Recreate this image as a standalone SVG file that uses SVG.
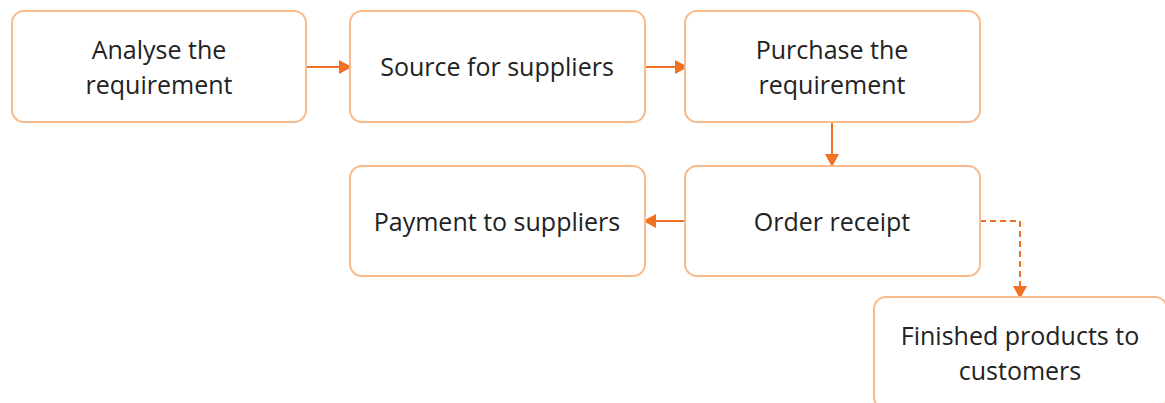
<svg xmlns="http://www.w3.org/2000/svg" width="1165" height="403" viewBox="0 0 1165 403">
<style>
.box{fill:#fff;stroke:#F9BA8C;stroke-width:2}
.t{font-family:"Open Sans","Liberation Sans",sans-serif;font-size:25px;fill:#222;text-anchor:middle}
.c{fill:none;stroke:#F07024;stroke-width:2}
.d{stroke-dasharray:6,4}
</style>
<defs>
<marker id="ah" markerWidth="13" markerHeight="14" refX="11" refY="7" orient="auto" markerUnits="userSpaceOnUse">
<path d="M0,0 L13,7 L0,14 z" fill="#F07024"/>
</marker>
</defs>
<rect width="1165" height="403" fill="#fff"/>
<g id="connectors">
<path class="c" d="M306,67 L350,67" marker-end="url(#ah)"/>
<path class="c" d="M645,67 L686,67" marker-end="url(#ah)"/>
<path class="c" d="M832,122 L832,165" marker-end="url(#ah)"/>
<path class="c" d="M685,221 L645,221" marker-end="url(#ah)"/>
<path class="c d" d="M980,221 L1020,221 L1020,297" marker-end="url(#ah)"/>
</g>
<g id="n1"><rect class="box" x="12" y="11" width="294" height="111" rx="12"/>
<text class="t" x="159" y="59">Analyse the</text><text class="t" x="159" y="94">requirement</text></g>
<g id="n2"><rect class="box" x="350" y="11" width="295" height="111" rx="12"/>
<text class="t" x="497" y="76">Source for suppliers</text></g>
<g id="n3"><rect class="box" x="685" y="11" width="295" height="111" rx="12"/>
<text class="t" x="832" y="59">Purchase the</text><text class="t" x="832" y="94">requirement</text></g>
<g id="n4"><rect class="box" x="350" y="166" width="295" height="110" rx="12"/>
<text class="t" x="497" y="231">Payment to suppliers</text></g>
<g id="n5"><rect class="box" x="685" y="166" width="295" height="110" rx="12"/>
<text class="t" x="832" y="231">Order receipt</text></g>
<g id="n6"><rect class="box" x="874" y="297" width="293" height="112" rx="12"/>
<text class="t" x="1020" y="345">Finished products to</text><text class="t" x="1020" y="380">customers</text></g>
</svg>
